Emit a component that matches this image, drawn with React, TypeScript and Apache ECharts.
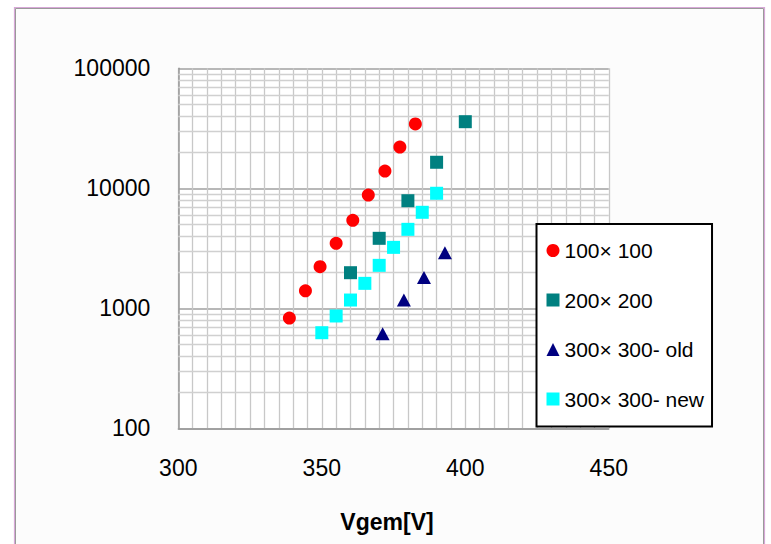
import React, { useEffect, useRef } from "react";
import * as echarts from "echarts";

const xTicks = [300, 350, 400, 450];
const yTicks = [100, 1000, 10000, 100000];
const yMinorLines = [
  200, 300, 400, 500, 600, 700, 800, 900,
  2000, 3000, 4000, 5000, 6000, 7000, 8000, 9000,
  20000, 30000, 40000, 50000, 60000, 70000, 80000, 90000,
];

const seriesNames = ["100× 100", "200× 200", "300× 300- old", "300× 300- new"];

const v100 = [338.7, 344.3, 349.4, 355.0, 360.8, 366.2, 372.0, 377.2, 382.6];
const g100 = [830, 1400, 2220, 3480, 5410, 8790, 13930, 22080, 34350];

const v200 = [360, 370, 380, 390, 400];
const g200 = [1980, 3830, 7880, 16480, 35900];

const v300old = [371.2, 378.6, 385.6, 392.9];
const g300old = [614, 1170, 1810, 2900];

const v300new = [350, 355, 360, 365, 370, 375, 380, 385, 390];
const g300new = [626, 863, 1172, 1614, 2280, 3220, 4550, 6310, 9090];

const zip = (xs: number[], ys: number[]) => xs.map((x, i) => [x, ys[i]]);

export default function App() {
  const ref = useRef<HTMLDivElement>(null);
  useEffect(() => {
    if (!ref.current) return;
    const chart = echarts.init(ref.current, undefined, { renderer: "svg" });
    const font = "'Liberation Sans', Arial, sans-serif";
    chart.setOption({
      animation: false,
      backgroundColor: "#ffffff",
      textStyle: { fontFamily: font },
      graphic: [
        {
          type: "rect",
          z: -100,
          shape: { x: 14.5, y: 7.5, width: 750, height: 700 },
          style: { fill: "none", stroke: "#d8a8d8", lineWidth: 1.2 },
        },
        {
          type: "rect",
          z: -99,
          shape: { x: 15.5, y: 8.5, width: 748, height: 700 },
          style: { fill: "#fcfcfc", stroke: "#9a9a9a", lineWidth: 1 },
        },
        {
          type: "text",
          x: 387,
          y: 522,
          style: {
            text: "Vgem[V]",
            font: `bold 23px ${font}`,
            fill: "#000",
            align: "center",
            verticalAlign: "middle",
          },
        },
      ],
      grid: {
        left: 178.3,
        top: 68.3,
        width: 430.5,
        height: 360,
        show: true,
        backgroundColor: "#ffffff",
        borderWidth: 0,
      },
      legend: {
        orient: "vertical",
        left: 536.5,
        top: 224,
        data: seriesNames,
        backgroundColor: "#ffffff",
        borderColor: "#000000",
        borderWidth: 2,
        borderRadius: 0,
        padding: [16, 8, 17, 10],
        itemGap: 28.5,
        itemWidth: 13,
        itemHeight: 13,
        itemStyle: { opacity: 1 },
        textStyle: { fontSize: 21, color: "#000", fontFamily: font, lineHeight: 21 },
      },
      xAxis: {
        type: "value",
        min: xTicks[0],
        max: xTicks[xTicks.length - 1],
        interval: 50,
        axisLine: { show: true, lineStyle: { color: "#999999", width: 1.5 } },
        axisTick: { show: false },
        axisLabel: {
          margin: 28,
          fontSize: 23,
          color: "#000",
          fontFamily: font,
          showMinLabel: true,
          showMaxLabel: true,
          formatter: (v: number) => String(Math.round(v)),
        },
        splitLine: { show: true, lineStyle: { color: "#c8c8c8", width: 1.3 } },
        minorTick: { show: false, splitNumber: 10 },
        minorSplitLine: { show: true, lineStyle: { color: "#c8c8c8", width: 1.3 } },
      },
      yAxis: {
        type: "log",
        logBase: 10,
        min: yTicks[0],
        max: yTicks[yTicks.length - 1],
        axisLine: { show: true, lineStyle: { color: "#999999", width: 1.5 } },
        axisTick: { show: false },
        axisLabel: {
          margin: 28,
          fontSize: 23,
          color: "#000",
          fontFamily: font,
          formatter: (v: number) => String(Math.round(v)),
        },
        splitLine: { show: true, lineStyle: { color: "#a0a0a0", width: 1.6 } },
      },
      series: [
        {
          name: seriesNames[0],
          type: "scatter",
          symbol: "circle",
          symbolSize: 13,
          itemStyle: { color: "#ff0000", opacity: 1 },
          data: zip(v100, g100),
          z: 5,
          markLine: {
            silent: true,
            symbol: "none",
            label: { show: false },
            lineStyle: { color: "#d0d0d0", width: 1.3, type: "solid" },
            data: yMinorLines.map((v) => ({ yAxis: v })),
            z: 1,
          },
        },
        {
          name: seriesNames[1],
          type: "scatter",
          symbol: "rect",
          symbolSize: 13,
          itemStyle: { color: "#008080", opacity: 1 },
          data: zip(v200, g200),
          z: 5,
        },
        {
          name: seriesNames[2],
          type: "scatter",
          symbol: "triangle",
          symbolSize: [14, 13],
          itemStyle: { color: "#000080", opacity: 1 },
          data: zip(v300old, g300old),
          z: 5,
        },
        {
          name: seriesNames[3],
          type: "scatter",
          symbol: "rect",
          symbolSize: 13,
          itemStyle: { color: "#00ffff", opacity: 1 },
          data: zip(v300new, g300new),
          z: 5,
        },
      ],
    });
    return () => chart.dispose();
  }, []);
  return (
    <div
      ref={ref}
      style={{ position: "fixed", left: 0, top: 0, width: 771, height: 544 }}
    />
  );
}
